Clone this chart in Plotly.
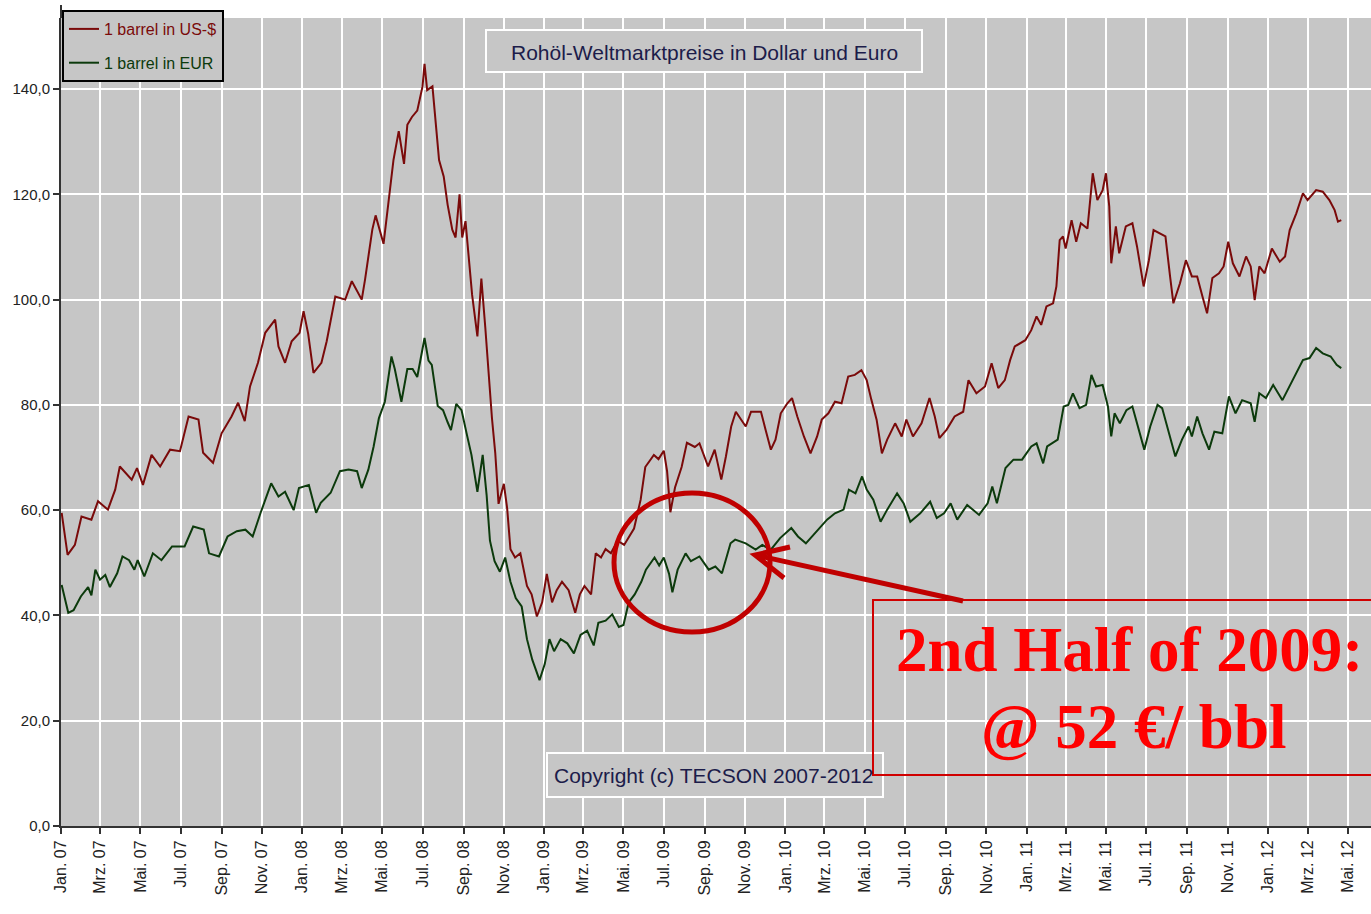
import plotly.graph_objects as go

# ---------------- data ----------------
usd_dates = [
    "2007-01-02","2007-01-11","2007-01-22","2007-02-01","2007-02-16","2007-02-26","2007-03-13","2007-03-24",
    "2007-03-31","2007-04-18","2007-04-26","2007-05-05","2007-05-18","2007-05-31","2007-06-15","2007-06-30",
    "2007-07-13","2007-07-28","2007-08-04","2007-08-19","2007-09-01","2007-09-16","2007-09-26","2007-10-06",
    "2007-10-14","2007-10-26","2007-11-06","2007-11-21","2007-11-26","2007-12-06","2007-12-16","2007-12-28",
    "2008-01-03","2008-01-10","2008-01-18","2008-01-30","2008-02-07","2008-02-20","2008-03-06","2008-03-16",
    "2008-03-31","2008-04-05","2008-04-16","2008-04-21","2008-05-03","2008-05-11","2008-05-18","2008-05-26",
    "2008-06-03","2008-06-08","2008-06-15","2008-06-23","2008-07-01","2008-07-04","2008-07-08","2008-07-16",
    "2008-07-21","2008-07-26","2008-08-02","2008-08-08","2008-08-15","2008-08-20","2008-08-26","2008-08-30",
    "2008-09-04","2008-09-09","2008-09-14","2008-09-22","2008-09-28","2008-10-04","2008-10-09","2008-10-14",
    "2008-10-19","2008-10-24","2008-11-01","2008-11-06","2008-11-11","2008-11-18","2008-11-26","2008-12-06",
    "2008-12-13","2008-12-21","2008-12-29","2009-01-05","2009-01-13","2009-01-20","2009-01-28","2009-02-07",
    "2009-02-17","2009-02-24","2009-03-03","2009-03-13","2009-03-20","2009-03-28","2009-04-04","2009-04-12",
    "2009-04-22","2009-05-02","2009-05-17","2009-05-27","2009-06-03","2009-06-16","2009-06-23","2009-07-01",
    "2009-07-06","2009-07-11","2009-07-18","2009-07-28","2009-08-05","2009-08-17","2009-08-24","2009-09-06",
    "2009-09-16","2009-09-26","2009-10-03","2009-10-11","2009-10-18","2009-11-02","2009-11-10","2009-11-25",
    "2009-12-02","2009-12-10","2009-12-17","2009-12-25","2010-01-04","2010-01-11","2010-01-19","2010-01-29",
    "2010-02-08","2010-02-18","2010-02-25","2010-03-07","2010-03-17","2010-03-27","2010-04-06","2010-04-16",
    "2010-04-26","2010-05-04","2010-05-11","2010-05-19","2010-05-27","2010-06-04","2010-06-16","2010-06-26",
    "2010-07-03","2010-07-13","2010-07-26","2010-08-07","2010-08-15","2010-08-22","2010-09-02","2010-09-14",
    "2010-09-27","2010-10-05","2010-10-17","2010-10-30","2010-11-09","2010-11-19","2010-11-29","2010-12-07",
    "2010-12-14","2010-12-30","2011-01-08","2011-01-16","2011-01-23","2011-01-31","2011-02-10","2011-02-15",
    "2011-02-20","2011-02-25","2011-03-01","2011-03-10","2011-03-17","2011-03-24","2011-04-03","2011-04-11",
    "2011-04-18","2011-04-26","2011-05-01","2011-05-06","2011-05-09","2011-05-16","2011-05-21","2011-05-31",
    "2011-06-10","2011-06-17","2011-06-27","2011-07-05","2011-07-12","2011-07-22","2011-07-30","2011-08-06",
    "2011-08-11","2011-08-21","2011-08-30","2011-09-08","2011-09-16","2011-09-24","2011-10-01","2011-10-09",
    "2011-10-19","2011-10-26","2011-11-02","2011-11-09","2011-11-19","2011-11-29","2011-12-06","2011-12-12",
    "2011-12-19","2011-12-27","2012-01-07","2012-01-19","2012-01-27","2012-02-03","2012-02-13","2012-02-23",
    "2012-03-01","2012-03-14","2012-03-24","2012-04-03","2012-04-11","2012-04-16","2012-04-21",
]
usd_values = [
    59.5, 51.5, 53.4, 58.8, 58.2, 61.7, 60.1, 63.9,
    68.3, 65.8, 68.0, 64.8, 70.5, 68.3, 71.5, 71.2,
    77.8, 77.2, 70.9, 69.0, 74.6, 77.8, 80.4, 76.9,
    83.5, 88.0, 93.7, 96.2, 91.1, 88.0, 92.1, 93.7,
    97.8, 93.5, 86.1, 88.0, 92.1, 100.6, 100.0, 103.5,
    100.0, 103.8, 113.3, 116.0, 110.6, 119.5, 126.5, 132.0,
    125.8, 133.2, 134.7, 135.9, 140.5, 144.8, 139.8, 140.5,
    132.8, 126.5, 123.4, 118.0, 113.3, 111.8, 120.0, 111.8,
    114.9, 107.0, 100.9, 93.0, 104.0, 94.6, 85.3, 77.5,
    70.9, 61.2, 65.0, 60.4, 52.6, 51.0, 51.8, 45.6,
    44.0, 39.8, 42.5, 47.9, 42.5, 44.8, 46.4, 44.8,
    40.5, 44.0, 45.6, 44.0, 51.8, 51.0, 52.6, 51.8,
    54.2, 53.4, 56.5, 62.0, 68.2, 70.5, 69.7, 71.3,
    67.4, 59.6, 64.3, 68.2, 72.8, 72.0, 72.7, 68.3,
    71.5, 65.8, 70.2, 75.9, 78.7, 75.9, 78.7, 78.7,
    75.3, 71.5, 73.4, 78.4, 80.3, 81.3, 77.8, 74.0,
    70.8, 74.0, 77.2, 78.4, 80.6, 80.3, 85.4, 85.7,
    86.6, 84.7, 81.0, 77.2, 70.8, 73.4, 76.5, 74.0,
    77.2, 74.0, 76.5, 81.3, 77.8, 73.7, 75.3, 77.8,
    78.7, 84.7, 82.2, 83.5, 87.9, 83.2, 84.7, 88.5,
    91.1, 92.3, 94.2, 96.8, 95.2, 98.7, 99.3, 102.5,
    111.3, 112.0, 109.7, 115.1, 111.0, 114.5, 113.5, 124.0,
    118.9, 120.8, 124.0, 117.7, 106.9, 113.9, 108.8, 113.9,
    114.5, 110.1, 102.5, 107.5, 113.2, 112.6, 112.0, 104.4,
    99.3, 103.1, 107.5, 104.4, 104.4, 100.6, 97.4, 104.1,
    105.0, 106.3, 111.0, 106.9, 104.4, 108.2, 106.3, 99.9,
    106.3, 105.0, 109.7, 107.2, 108.2, 113.2, 116.4, 120.2,
    118.9, 120.8, 120.5, 118.9, 117.0, 114.8, 115.1,
]

eur_dates = [
    "2007-01-02","2007-01-12","2007-01-20","2007-01-31","2007-02-11","2007-02-16","2007-02-22","2007-03-01",
    "2007-03-09","2007-03-16","2007-03-27","2007-04-04","2007-04-14","2007-04-22","2007-04-27","2007-05-07",
    "2007-05-20","2007-06-02","2007-06-18","2007-07-07","2007-07-20","2007-08-05","2007-08-13","2007-08-28",
    "2007-09-10","2007-09-24","2007-10-07","2007-10-18","2007-10-30","2007-11-15","2007-11-26","2007-12-06",
    "2007-12-19","2007-12-27","2008-01-11","2008-01-22","2008-01-29","2008-02-13","2008-02-27","2008-03-11",
    "2008-03-24","2008-03-31","2008-04-10","2008-04-18","2008-04-26","2008-05-05","2008-05-15","2008-05-20",
    "2008-05-30","2008-06-08","2008-06-16","2008-06-23","2008-06-30","2008-07-04","2008-07-10","2008-07-15",
    "2008-07-24","2008-08-01","2008-08-08","2008-08-13","2008-08-21","2008-08-29","2008-09-06","2008-09-13",
    "2008-09-22","2008-09-30","2008-10-06","2008-10-11","2008-10-18","2008-10-26","2008-11-03","2008-11-11",
    "2008-11-19","2008-11-28","2008-12-06","2008-12-14","2008-12-25","2009-01-02","2009-01-09","2009-01-16",
    "2009-01-26","2009-02-05","2009-02-15","2009-02-25","2009-03-07","2009-03-17","2009-03-24","2009-04-04",
    "2009-04-14","2009-04-24","2009-05-01","2009-05-09","2009-05-18","2009-05-28","2009-06-04","2009-06-17",
    "2009-06-24","2009-07-01","2009-07-09","2009-07-14","2009-07-22","2009-08-03","2009-08-11","2009-08-24",
    "2009-09-07","2009-09-17","2009-09-27","2009-10-10","2009-10-17","2009-11-02","2009-11-17","2009-11-27",
    "2009-12-10","2009-12-24","2010-01-10","2010-01-20","2010-02-01","2010-02-14","2010-02-24","2010-03-05",
    "2010-03-17","2010-03-30","2010-04-07","2010-04-17","2010-04-27","2010-05-04","2010-05-14","2010-05-25",
    "2010-06-04","2010-06-19","2010-06-29","2010-07-09","2010-07-24","2010-08-08","2010-08-18","2010-08-29",
    "2010-09-08","2010-09-18","2010-10-03","2010-10-21","2010-11-03","2010-11-10","2010-11-17","2010-11-30",
    "2010-12-12","2010-12-25","2011-01-08","2011-01-16","2011-01-26","2011-02-01","2011-02-17","2011-02-26",
    "2011-03-05","2011-03-12","2011-03-22","2011-04-01","2011-04-09","2011-04-16","2011-04-26","2011-05-04",
    "2011-05-09","2011-05-14","2011-05-22","2011-06-01","2011-06-10","2011-06-18","2011-06-28","2011-07-07",
    "2011-07-18","2011-07-25","2011-08-04","2011-08-14","2011-08-24","2011-09-03","2011-09-08","2011-09-16",
    "2011-09-24","2011-10-04","2011-10-12","2011-10-24","2011-11-03","2011-11-13","2011-11-23","2011-12-06",
    "2011-12-12","2011-12-19","2011-12-29","2012-01-09","2012-01-23","2012-02-03","2012-02-13","2012-02-23",
    "2012-03-04","2012-03-14","2012-03-24","2012-04-05","2012-04-14","2012-04-21",
]
eur_values = [
    45.8, 40.5, 41.0, 43.6, 45.4, 43.8, 48.7, 46.8,
    47.7, 45.4, 48.0, 51.2, 50.5, 48.7, 50.5, 47.4,
    51.8, 50.5, 53.1, 53.1, 56.9, 56.3, 51.8, 51.2,
    55.0, 56.0, 56.3, 55.0, 59.5, 65.1, 62.6, 63.5,
    60.0, 64.2, 64.8, 59.5, 61.4, 63.3, 67.4, 67.7,
    67.4, 64.2, 67.7, 72.1, 77.5, 80.6, 89.2, 86.8,
    80.6, 86.8, 86.8, 85.3, 90.0, 92.7, 88.4, 87.6,
    79.8, 79.0, 76.7, 75.2, 80.2, 79.0, 74.4, 70.5,
    63.5, 70.5, 62.8, 54.2, 50.3, 48.3, 51.0, 46.4,
    43.3, 41.7, 35.5, 31.6, 27.7, 30.8, 35.5, 33.2,
    35.5, 34.7, 32.8, 36.3, 37.1, 34.3, 38.6, 39.0,
    40.2, 37.8, 38.2, 42.5, 44.0, 46.4, 48.7, 51.0,
    49.5, 51.0, 47.9, 44.4, 48.7, 51.8, 50.3, 51.2,
    48.7, 49.3, 48.0, 53.7, 54.4, 53.7, 52.5, 53.4,
    52.5, 54.7, 56.6, 55.0, 53.7, 55.6, 56.9, 58.2,
    59.4, 60.1, 63.9, 63.2, 66.4, 63.9, 62.0, 57.8,
    60.1, 63.2, 61.3, 57.8, 59.4, 61.6, 58.5, 59.4,
    61.3, 58.2, 61.0, 59.1, 61.3, 64.5, 61.3, 68.0,
    69.6, 69.6, 72.1, 72.7, 68.9, 72.1, 73.4, 79.7,
    80.0, 82.2, 79.4, 80.0, 85.7, 83.5, 83.8, 79.7,
    74.0, 78.4, 76.5, 79.0, 79.7, 75.9, 71.5, 75.9,
    80.0, 79.4, 74.6, 70.2, 73.4, 75.9, 74.0, 77.8,
    74.6, 71.5, 74.9, 74.6, 81.6, 78.4, 80.9, 80.3,
    76.8, 82.2, 81.3, 83.8, 80.9, 83.5, 86.0, 88.5,
    88.9, 90.8, 89.8, 89.2, 87.6, 87.0,
]

tick_dates = [
    "2007-01-01","2007-03-01","2007-05-01","2007-07-01","2007-09-01","2007-11-01",
    "2008-01-01","2008-03-01","2008-05-01","2008-07-01","2008-09-01","2008-11-01",
    "2009-01-01","2009-03-01","2009-05-01","2009-07-01","2009-09-01","2009-11-01",
    "2010-01-01","2010-03-01","2010-05-01","2010-07-01","2010-09-01","2010-11-01",
    "2011-01-01","2011-03-01","2011-05-01","2011-07-01","2011-09-01","2011-11-01",
    "2012-01-01","2012-03-01","2012-05-01",
]
tick_labels = [
    "Jan. 07","Mrz. 07","Mai. 07","Jul. 07","Sep. 07","Nov. 07",
    "Jan. 08","Mrz. 08","Mai. 08","Jul. 08","Sep. 08","Nov. 08",
    "Jan. 09","Mrz. 09","Mai. 09","Jul. 09","Sep. 09","Nov. 09",
    "Jan. 10","Mrz. 10","Mai. 10","Jul. 10","Sep. 10","Nov. 10",
    "Jan. 11","Mrz. 11","Mai. 11","Jul. 11","Sep. 11","Nov. 11",
    "Jan. 12","Mrz. 12","Mai. 12",
]
y_ticks = [0, 20, 40, 60, 80, 100, 120, 140]

series_names = ["1 barrel in US-$", "1 barrel in EUR"]
USD_COLOR = "#7a0a0a"
EUR_COLOR = "#0c3a0c"
BG = "#c6c6c6"

# ---------------- figure ----------------
fig = go.Figure()
fig.add_trace(go.Scatter(
    x=usd_dates, y=usd_values, mode="lines",
    name=f"<span style='color:{USD_COLOR}'>{series_names[0]}</span>",
    line=dict(color=USD_COLOR, width=2), legendgroup="a",
))
fig.add_trace(go.Scatter(
    x=eur_dates, y=eur_values, mode="lines",
    name=f"<span style='color:{EUR_COLOR}'>{series_names[1]}</span>",
    line=dict(color=EUR_COLOR, width=2), legendgroup="b",
))

# body margin is removed in post_script, so figure pixels == window pixels
FIG_W, FIG_H = 1371, 914
L, T, W, H = 61, 18, 1310, 808   # plot area in pixels


def px(xp):
    return (xp - L) / W


def py(yp):
    return (T + H - yp) / H


shapes = []
# y-axis line extending a little above the plot area
shapes.append(dict(type="line", xref="paper", yref="paper",
                   x0=0, x1=0, y0=1, y1=py(5), line=dict(color="#333", width=2)))
# title box
shapes.append(dict(type="rect", xref="paper", yref="paper",
                   x0=px(486), x1=px(922), y0=py(72), y1=py(30),
                   fillcolor=BG, line=dict(color="white", width=2), layer="above"))
# copyright box
shapes.append(dict(type="rect", xref="paper", yref="paper",
                   x0=px(547), x1=px(883), y0=py(797), y1=py(753),
                   fillcolor=BG, line=dict(color="white", width=2), layer="above"))
# red annotation frame
shapes.append(dict(type="rect", xref="paper", yref="paper",
                   x0=px(873), x1=px(1385), y0=py(775), y1=py(600),
                   fillcolor="rgba(0,0,0,0)", line=dict(color="#d00000", width=2), layer="above"))
# ellipse
shapes.append(dict(type="circle", xref="paper", yref="paper",
                   x0=px(614), x1=px(770), y0=py(632), y1=py(493),
                   line=dict(color="#c00000", width=5), layer="above"))
# arrow shaft + head
tip = (755, 555)
path = (f"M {px(963)},{py(601)} L {px(tip[0])},{py(tip[1])} "
        f"M {px(790)},{py(547)} L {px(tip[0])},{py(tip[1])} L {px(784)},{py(578)}")
shapes.append(dict(type="path", xref="paper", yref="paper", path=path,
                   line=dict(color="#c00000", width=5), layer="above"))

annotations = [
    dict(text="Rohöl-Weltmarktpreise in Dollar und Euro", xref="paper", yref="paper",
         x=px(704), y=py(52), showarrow=False, xanchor="center", yanchor="middle",
         font=dict(family="Liberation Sans, Arial", size=21, color="#1c1c4a")),
    dict(text="Copyright (c) TECSON 2007-2012", xref="paper", yref="paper",
         x=px(713), y=py(775), showarrow=False, xanchor="center", yanchor="middle",
         font=dict(family="Liberation Sans, Arial", size=21, color="#1c1c4a")),
    dict(text="<b>2nd Half of 2009:</b>", xref="paper", yref="paper",
         x=px(1129), y=py(650), showarrow=False, xanchor="center", yanchor="middle",
         font=dict(family="Liberation Serif, Times New Roman", size=63, color="#ff0000")),
    dict(text="<b>@ 52 €/ bbl</b>", xref="paper", yref="paper",
         x=px(1133), y=py(727), showarrow=False, xanchor="center", yanchor="middle",
         font=dict(family="Liberation Serif, Times New Roman", size=63, color="#ff0000")),
]

fig.update_layout(
    width=FIG_W, height=FIG_H,
    margin=dict(l=L, r=FIG_W - L - W, t=T, b=FIG_H - T - H, pad=0),
    paper_bgcolor="white", plot_bgcolor=BG,
    separators=",.",
    showlegend=True,
    legend=dict(
        x=px(62), y=py(10), xanchor="left", yanchor="top",
        bgcolor=BG, bordercolor="black", borderwidth=2,
        font=dict(family="Liberation Sans, Arial", size=16, color="#333"),
        tracegroupgap=10, traceorder="grouped", itemwidth=30,
    ),
    shapes=shapes, annotations=annotations,
    font=dict(family="Liberation Sans, Arial"),
)
fig.update_xaxes(
    type="date", range=["2007-01-01", "2012-06-05"],
    tickvals=tick_dates, ticktext=tick_labels, tickangle=-90,
    tickfont=dict(family="Liberation Sans, Arial", size=16, color="#222"),
    showgrid=True, gridcolor="white", gridwidth=2,
    showline=True, linecolor="#333", linewidth=2,
    ticks="outside", ticklen=6, tickcolor="#333", tickwidth=1.5,
    zeroline=False,
)
fig.update_yaxes(
    range=[0, 153.5], tickvals=y_ticks, tickformat=".1f",
    tickfont=dict(family="Liberation Sans, Arial", size=15, color="#222"),
    showgrid=True, gridcolor="white", gridwidth=2,
    showline=True, linecolor="#333", linewidth=2,
    ticks="outside", ticklen=6, tickcolor="#333", tickwidth=1.5,
    zeroline=False,
)

fig.write_html(
    "out.html",
    config={"displayModeBar": False},
    post_script="document.body.style.margin='0';document.body.style.overflow='hidden';",
)
